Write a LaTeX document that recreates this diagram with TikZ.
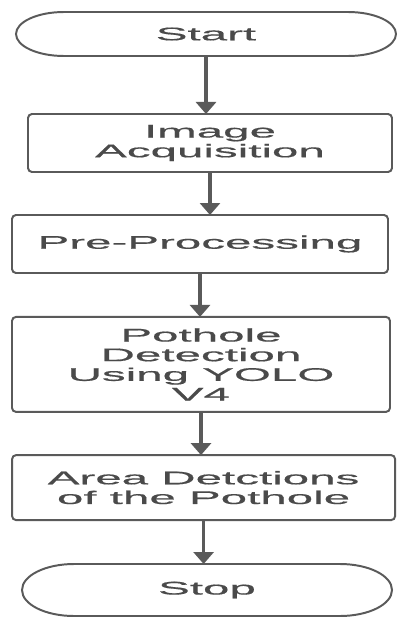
\documentclass[tikz,border=0pt]{standalone}
\usepackage{fontspec}
\newfontfamily\flowfont[FakeStretch=2.6,FakeBold=0.6]{Liberation Sans}
\usetikzlibrary{positioning}
\usetikzlibrary{arrows.meta}
\definecolor{linegray}{HTML}{5A5A5A}
\definecolor{textgray}{HTML}{4A4A4A}

\begin{document}
\begin{tikzpicture}
    \tikzset{base/.style = {rectangle, outer sep=0pt, align=center,
                           text=textgray, font=\flowfont\fontsize{13}{14}\selectfont}}
    \tikzset{process/.style = {base, draw=linegray, line width=1.4pt, rounded corners=0.1cm}}
    \tikzset{term/.style = {base, minimum height=1.1cm}}
    \tikzset{termline/.style = {draw=linegray, line width=1.4pt}}
    \tikzset{flow/.style = {draw=linegray, line width=2.2pt,
                           -{Triangle[width=0.5cm,length=0.3cm]}}}

    \useasboundingbox (0,0) rectangle (9.9,-15.475);

    \node (start) [term, minimum width=9.5cm] at (5.15,-0.85) {Start};
    \node (img) [process, minimum width=9.1cm, minimum height=1.45cm] at (5.25,-3.575) {Image\\Acquisition};
    \node (pre) [process, minimum width=9.4cm, minimum height=1.45cm] at (5.0,-6.1) {Pre-Processing};
    \node (det) [process, minimum width=9.45cm, minimum height=2.375cm] at (5.025,-9.11) {Pothole\\Detection\\Using YOLO\\V4};
    \node (area) [process, minimum width=9.575cm, minimum height=1.625cm] at (5.09,-12.19) {Area Detctions\\of the Pothole};
    \node (stop) [term, minimum width=9.25cm, minimum height=1.3cm] at (5.175,-14.75) {Stop};

    % terminal outlines
    \draw[termline] ([xshift=1.2cm]start.north west) -- ([xshift=-1.2cm]start.north east)
        arc[start angle=90, end angle=-90, x radius=1.2cm, y radius=0.55cm]
        -- ([xshift=1.2cm]start.south west)
        arc[start angle=270, end angle=90, x radius=1.2cm, y radius=0.55cm] -- cycle;
    \draw[termline] ([xshift=1.3cm]stop.north west) -- ([xshift=-1.3cm]stop.north east)
        arc[start angle=90, end angle=-90, x radius=1.3cm, y radius=0.65cm]
        -- ([xshift=1.3cm]stop.south west)
        arc[start angle=270, end angle=90, x radius=1.3cm, y radius=0.65cm] -- cycle;

    \draw[flow] (start.south) -- (start.south |- img.north);
    \draw[flow] (img.south) -- (img.south |- pre.north);
    \draw[flow] (pre.south) -- (pre.south |- det.north);
    \draw[flow] (det.south) -- (det.south |- area.north);
    \draw[flow] (area.south) -- (area.south |- stop.north);

\end{tikzpicture}
\end{document}
